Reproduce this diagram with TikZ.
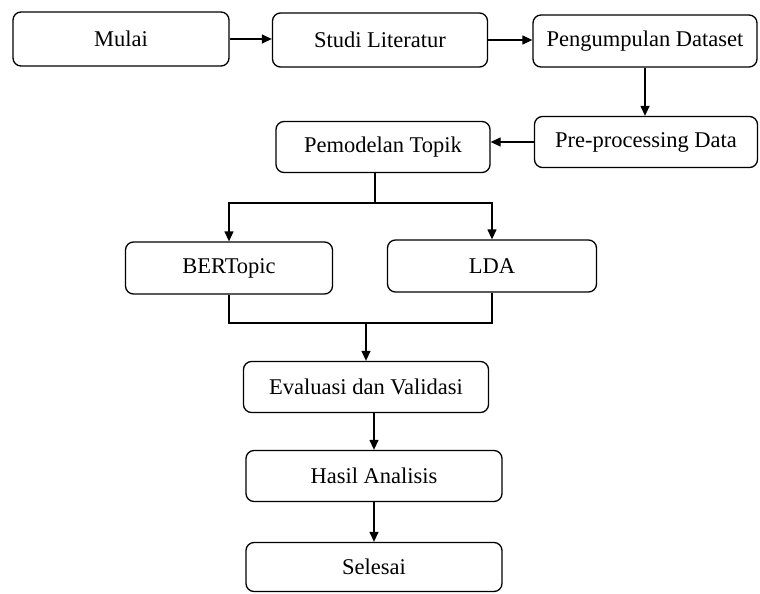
\documentclass[tikz,border=0pt]{standalone}
\usepackage{fontspec}
\setmainfont{Liberation Serif}
\usetikzlibrary{arrows.meta}
\tikzset{
  box/.style={draw, line width=1.3pt, rounded corners=8pt, align=center,
    font=\fontsize{22.5}{26}\selectfont, inner sep=0pt},
  arr/.style={line width=1.3pt, -{Triangle[length=10pt,width=9pt]}},
  ln/.style={line width=1.3pt}
}
\begin{document}
\begin{tikzpicture}
        [x=1pt,y=-1pt]
        \useasboundingbox (0,0) rectangle (760,594);
        \node[box, minimum width=216pt, minimum height=54pt] (mulai) at (121,39) {Mulai};
        \node[box, minimum width=215pt, minimum height=54pt] (studi) at (380,40) {Studi Literatur};
        \node[box, minimum width=224pt, minimum height=52pt] (kumpul) at (645,41) {Pengumpulan Dataset};
        \node[box, minimum width=223pt, minimum height=51pt] (prepro) at (646,142) {Pre-processing Data};
        \node[box, minimum width=214pt, minimum height=51pt] (model) at (383,147) {Pemodelan Topik};
        \node[box, minimum width=207pt, minimum height=52pt] (bert) at (229,268) {BERTopic};
        \node[box, minimum width=209pt, minimum height=52pt] (lda) at (492,266) {LDA};
        \node[box, minimum width=245pt, minimum height=51pt] (eval) at (366,387) {Evaluasi dan Validasi};
        \node[box, minimum width=256pt, minimum height=51pt] (hasil) at (374,476) {Hasil Analisis};
        \node[box, minimum width=256pt, minimum height=49pt] (selesai) at (374,567) {Selesai};

        \draw[arr] (mulai.east) -- (mulai.east -| studi.west);
        \draw[arr] (studi.east) -- (studi.east -| kumpul.west);
        \draw[arr] (kumpul.south) -- (kumpul.south |- prepro.north);
        \draw[arr] (prepro.west) -- (prepro.west -| model.east);

        \coordinate (split) at (375,203);
        \draw[ln] (model.south -| split) -- (split);
        \draw[arr] (split) -| (bert.north);
        \draw[arr] (split) -| (lda.north);

        \coordinate (join) at (366,323);
        \draw[ln] (bert.south) |- (join) -| (lda.south);
        \draw[arr] (join) -- (eval.north);
        \draw[arr] (eval.south -| hasil.north) -- (hasil.north);
        \draw[arr] (hasil.south) -- (selesai.north);
      \end{tikzpicture}
\end{document}
